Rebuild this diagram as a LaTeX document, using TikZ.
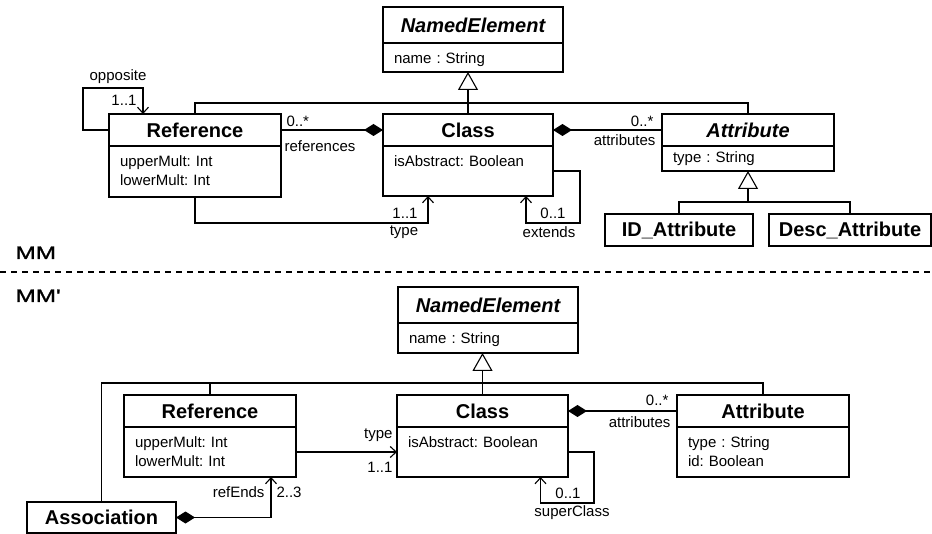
\documentclass[tikz,border=0pt]{standalone}
\usepackage{fontspec}
\setmainfont{Liberation Sans}
\newfontfamily\mmfont[Ligatures=TeXOff,FakeBold=1.2]{Liberation Sans}
\usetikzlibrary{arrows.meta}
\frenchspacing
\begin{document}
\begin{tikzpicture}[x=1pt,y=-1pt,line width=1.1pt,
  hdr/.style={draw,rectangle,anchor=north west,inner sep=0pt,outer sep=0pt,font=\fontsize{20}{24}\selectfont\bfseries},
  abst/.style={font=\fontsize{20}{24}\selectfont\bfseries\itshape},
  body/.style={draw,rectangle,anchor=north west,inner xsep=11pt,inner ysep=0pt,outer sep=0pt,align=left,font=\fontsize{15}{19}\selectfont},
  lbl/.style={inner sep=0pt,font=\fontsize{15}{18}\selectfont},
  gen/.style={-{Triangle[open,length=18pt,width=20pt,fill=white]}},
  genstart/.style={{Triangle[open,length=18pt,width=20pt,fill=white]}-},
  comp/.style={{Diamond[length=19pt,width=12pt]}-},
  nav/.style={-{Straight Barb[length=6pt,width=11pt]}},
  compnav/.style={{Diamond[length=19pt,width=12pt]}-{Straight Barb[length=6pt,width=11pt]}},
  mmlbl/.style={inner sep=0pt,anchor=base west,font=\mmfont\fontsize{18}{20}\selectfont}]
\useasboundingbox (0,0) rectangle (932,534);
\fill[white] (0,0) rectangle (932,534);

% ---------------- top diagram (MM) ----------------
\node[hdr,abst,minimum width=180,minimum height=36] (ne1) at (383,7) {NamedElement};
\node[body,text width=158,minimum height=29,text height=21pt,text depth=8pt] (ne1b) at (ne1.south west) {name : String};

\node[hdr,minimum width=172,minimum height=32] (ref1) at (109,114) {Reference};
\node[body,text width=150,minimum height=51,text height=21pt,text depth=30pt] (ref1b) at (ref1.south west) {upperMult: Int\\lowerMult: Int};

\node[hdr,minimum width=170,minimum height=32] (cls1) at (383,114) {Class};
\node[body,text width=148,minimum height=50,text height=21pt,text depth=29pt] (cls1b) at (cls1.south west) {isAbstract: Boolean};

\node[hdr,abst,minimum width=172,minimum height=32] (att1) at (662,114) {Attribute};
\node[body,text width=150,minimum height=25,text height=17pt,text depth=8pt] (att1b) at (att1.south west) {type : String};

\node[hdr,minimum width=148,minimum height=32] (ida) at (605,214) {ID\_Attribute};
\node[hdr,minimum width=162,minimum height=32] (desca) at (769,214) {Desc\_Attribute};

% generalizations
\draw[gen] (cls1.north) -- (cls1.north |- ne1b.south);
\draw (ref1.north) -- ++(0,-11) -| (att1.north);
\draw[genstart] (att1b.south) -- ++(0,31) coordinate (j1) -| (ida.north);
\draw (j1) -| (desca.north);

% associations
\draw[comp] (cls1.west) -- (ref1.east);
\draw[comp] (cls1.east) -- (att1.west);
\draw[nav] (ref1.west) -- ++(-26,0) -- ++(0,-42) -| ([xshift=34pt]ref1.north west);
\draw[nav] (ref1b.south) -- ++(0,26) -| ([xshift=-40pt]cls1b.south);
\draw[nav] (cls1b.east) -- ++(27,0) -- ++(0,52) -| ([xshift=58pt]cls1b.south);

% labels
\node[lbl] (l1) at (118,77) {opposite};
\node[lbl] (l2) at (124,100) {1..1};
\node[lbl,anchor=west] (l3) at (286,121) {0..*};
\node[lbl,anchor=west] (l4) at (284,146) {references};
\node[lbl,anchor=east] (l5) at (654,121) {0..*};
\node[lbl,anchor=east] (l6) at (656,140) {attributes};
\node[lbl] (l7) at (405,213) {1..1};
\node[lbl] (l8) at (404,232) {type};
\node[lbl] (l9) at (553,213) {0..1};
\node[lbl] (l10) at (549,232) {extends};

% ---------------- separator ----------------
\node[mmlbl] (mm1) at (15,259) {\scalebox{1.35}[1]{MM}};
\coordinate (s1) at (0,272);
\coordinate (s2) at (932,272);
\draw[dash pattern=on 6pt off 5pt,line width=1.2pt] (s1) -- (s2);
\node[mmlbl] (mm2) at (15,302) {\scalebox{1.35}[1]{MM'}};

% ---------------- bottom diagram (MM') ----------------
\node[hdr,abst,minimum width=180,minimum height=36] (ne2) at (398,287) {NamedElement};
\node[body,text width=158,minimum height=30,text height=21pt,text depth=9pt] (ne2b) at (ne2.south west) {name : String};

\node[hdr,minimum width=172,minimum height=32] (ref2) at (124,395) {Reference};
\node[body,text width=150,minimum height=50,text height=21pt,text depth=29pt] (ref2b) at (ref2.south west) {upperMult: Int\\lowerMult: Int};

\node[hdr,minimum width=171,minimum height=32] (cls2) at (397,395) {Class};
\node[body,text width=149,minimum height=50,text height=21pt,text depth=29pt] (cls2b) at (cls2.south west) {isAbstract: Boolean};

\node[hdr,minimum width=172,minimum height=32] (att2) at (677,395) {Attribute};
\node[body,text width=150,minimum height=50,text height=21pt,text depth=29pt] (att2b) at (att2.south west) {type : String\\id: Boolean};

\node[hdr,minimum width=149,minimum height=31] (asc) at (27,502) {Association};

% generalizations
\draw[gen] (cls2.north) -- (cls2.north |- ne2b.south);
\draw (asc.north) -- ++(0,-119) -| (att2.north);
\draw (ref2.north) -- ++(0,-12);

% associations
\draw[comp] (cls2.east) -- (att2.west);
\draw[nav] (ref2b.east) -- (cls2b.west);
\draw[nav] (cls2b.east) -- ++(26,0) -- ++(0,51) -| ([xshift=58pt]cls2b.south);
\draw[compnav] (asc.east) -| ([xshift=61pt]ref2b.south);

% labels
\node[lbl,anchor=east] (b1) at (393,435) {type};
\node[lbl,anchor=east] (b2) at (393,467) {1..1};
\node[lbl,anchor=east] (b3) at (669,400) {0..*};
\node[lbl,anchor=east] (b4) at (671,422) {attributes};
\node[lbl] (b5) at (568,493) {0..1};
\node[lbl] (b6) at (572,513) {superClass};
\node[lbl,anchor=east] (b7) at (265,492) {refEnds};
\node[lbl,anchor=west] (b8) at (276,492) {2..3};
\end{tikzpicture}
\end{document}
